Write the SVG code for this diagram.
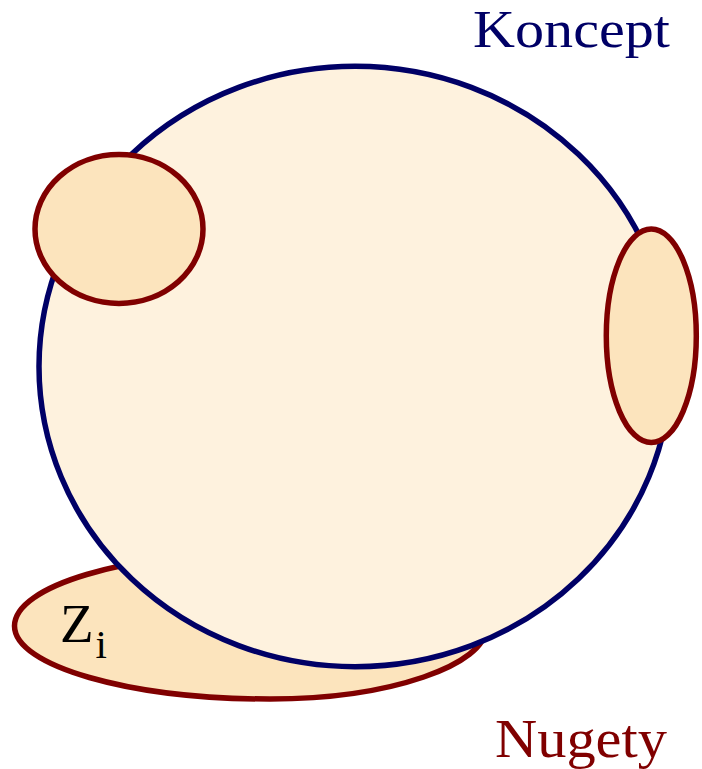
<svg xmlns="http://www.w3.org/2000/svg" width="702" height="769" viewBox="0 0 702 769">
  <style>
    .nug { fill: #FCE4BD; stroke: #800000; stroke-width: 5.5; }
    .kon { fill: #FEF2DE; stroke: #000066; stroke-width: 5.5; }
    .lbl { font-family: "Liberation Serif", "Times New Roman", serif; }
  </style>
  <g id="nugget-zi">
    <path class="nug" d="M 14.5,626 C 14.5,666 129,699 270,699 C 392,699 486,664 486,628 C 486,589 385,553 260,553 C 125,553 14.5,586 14.5,626 Z"/>
  </g>
  <g id="koncept">
    <ellipse class="kon" cx="355" cy="366.5" rx="316" ry="300.2"/>
  </g>
  <g id="nugget-left">
    <ellipse class="nug" cx="119" cy="229" rx="84" ry="74.5"/>
  </g>
  <g id="nugget-right">
    <ellipse class="nug" cx="651.3" cy="335.8" rx="45" ry="106.8"/>
  </g>
  <g id="connectors"></g>
  <g id="labels">
    <text class="lbl" x="473" y="47" font-size="53" fill="#000066" textLength="197" lengthAdjust="spacingAndGlyphs">Koncept</text>
    <text class="lbl" x="495" y="757" font-size="54" fill="#800000" textLength="172" lengthAdjust="spacingAndGlyphs">Nugety</text>
    <text class="lbl" x="60" y="642" font-size="55" fill="#000000">Z<tspan dx="2" dy="16" font-size="41">i</tspan></text>
  </g>
</svg>
